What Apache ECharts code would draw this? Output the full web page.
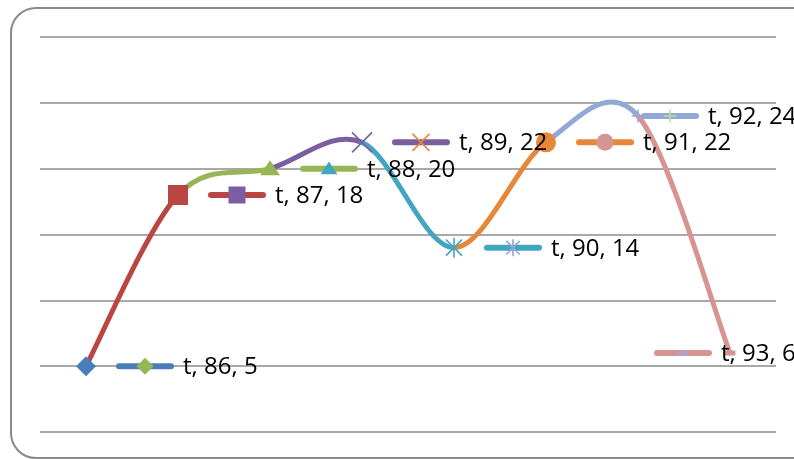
<!DOCTYPE html>
<html><head><meta charset="utf-8">
<script src="https://cdn.jsdelivr.net/npm/echarts@6/dist/echarts.min.js"></script>
<style>html,body{margin:0;padding:0;background:#fff}#c{width:794px;height:459px}</style>
</head><body><div id="c"></div>
<script>
// ---- data ----
const seriesName = 't';
const categories = ['86', '87', '88', '89', '90', '91', '92', '93'];
const values = [5, 18, 20, 22, 14, 22, 24, 6];
const yTicks = [0, 5, 10, 15, 20, 25, 30];

// ---- styles ----
const pointColors = ['#4A7EBB', '#BA4643', '#96B656', '#7B5E9F', '#43A6C0', '#E6873A', '#92A9D6', '#D69492'];
const keyMarkerColors = ['#96B656', '#7B5E9F', '#43A6C0', '#E6873A', '#92A9D6', '#D69492', '#C3D69B', '#B3A2C7'];
const markerKinds = ['diamond', 'rect', 'triangle', 'x', 'star', 'circle', 'plus', 'dash'];
const labelShift = [0, 0, 0, 0, 0, 0, -27, -106];
const FONT = '24px "Open Sans", "Liberation Sans", sans-serif';

function marker(kind, cx, cy, color, s) {
  const h = s / 2;
  const ln = (x1, y1, x2, y2) => ({ type: 'line', shape: { x1, y1, x2, y2 }, style: { stroke: color, lineWidth: 1.6 } });
  switch (kind) {
    case 'diamond':
      return [{ type: 'polygon', shape: { points: [[cx, cy - h], [cx + h, cy], [cx, cy + h], [cx - h, cy]] }, style: { fill: color } }];
    case 'rect':
      return [{ type: 'rect', shape: { x: cx - h, y: cy - h, width: s, height: s }, style: { fill: color } }];
    case 'triangle':
      return [{ type: 'polygon', shape: { points: [[cx, cy - h * 0.85], [cx + h, cy + h * 0.65], [cx - h, cy + h * 0.65]] }, style: { fill: color } }];
    case 'x':
      return [ln(cx - h, cy - h, cx + h, cy + h), ln(cx - h, cy + h, cx + h, cy - h)];
    case 'star':
      return [ln(cx - h * 0.8, cy - h * 0.8, cx + h * 0.8, cy + h * 0.8), ln(cx - h * 0.8, cy + h * 0.8, cx + h * 0.8, cy - h * 0.8), ln(cx, cy - h, cx, cy + h)];
    case 'circle':
      return [{ type: 'circle', shape: { cx, cy, r: h }, style: { fill: color } }];
    case 'plus':
      return [ln(cx - h * 0.7, cy, cx + h * 0.7, cy), ln(cx, cy - h * 0.7, cx, cy + h * 0.7)];
    case 'dash':
      return [{ type: 'rect', shape: { x: cx - h * 0.6, y: cy - 2.5, width: s * 0.6, height: 5 }, style: { fill: color } }];
  }
  return [];
}

function renderSegment(params, api) {
  const i = params.dataIndex;
  const n = values.length;
  const P = k => { const kk = Math.max(0, Math.min(n - 1, k)); return api.coord([kk, values[kk]]); };
  const p0 = P(i - 1), p1 = P(i), p2 = P(i + 1), p3 = P(i + 2);
  const c1 = [p1[0] + (p2[0] - p0[0]) / 6, p1[1] + (p2[1] - p0[1]) / 6];
  const c2 = [p2[0] - (p3[0] - p1[0]) / 6, p2[1] - (p3[1] - p1[1]) / 6];
  return {
    type: 'bezierCurve',
    shape: { x1: p1[0], y1: p1[1], cpx1: c1[0], cpy1: c1[1], cpx2: c2[0], cpy2: c2[1], x2: p2[0], y2: p2[1] },
    style: { stroke: pointColors[i + 1], lineWidth: 5, fill: null, lineCap: 'round' }
  };
}

function renderMarker(params, api) {
  const i = params.dataIndex;
  const p = api.coord([i, values[i]]);
  const s = markerKinds[i] === 'plus' ? 18 : (markerKinds[i] === 'dash' ? 18 : 20);
  return { type: 'group', children: marker(markerKinds[i], p[0], p[1], pointColors[i], s) };
}

function renderLabel(params, api) {
  const i = params.dataIndex;
  const p = api.coord([i, values[i]]);
  const x = p[0] + labelShift[i], y = p[1];
  const s = markerKinds[i] === 'plus' ? 18 : 17;
  const children = [
    { type: 'line', shape: { x1: x + 33, y1: y, x2: x + 85, y2: y }, style: { stroke: pointColors[i], lineWidth: 6, lineCap: 'round' } }
  ].concat(marker(markerKinds[i], x + 59, y, keyMarkerColors[i], s)).concat([
    { type: 'text', x: x + 97, y: y + 1, style: { text: seriesName + ', ' + categories[i] + ', ' + values[i], fill: '#000', font: FONT, align: 'left', verticalAlign: 'middle' } }
  ]);
  return { type: 'group', children };
}

const chart = echarts.init(document.getElementById('c'), null, { renderer: 'canvas' });
chart.setOption({
  animation: false,
  backgroundColor: '#fff',
  graphic: [{
    type: 'rect', z: 0,
    shape: { x: 11, y: 8, width: 830, height: 450, r: 25 },
    style: { fill: null, stroke: '#8a8a8a', lineWidth: 2 }
  }],
  grid: { left: 40, right: 18, top: 37, bottom: 27 },
  xAxis: {
    type: 'category', data: categories, boundaryGap: true,
    axisLine: { show: false }, axisTick: { show: false }, axisLabel: { show: false }, splitLine: { show: false }
  },
  yAxis: {
    type: 'value', min: yTicks[0], max: yTicks[yTicks.length - 1], interval: yTicks[1] - yTicks[0],
    axisLine: { show: false }, axisTick: { show: false }, axisLabel: { show: false },
    splitLine: { show: true, lineStyle: { color: '#8c8c8c', width: 1.5 } }
  },
  series: [
    { type: 'custom', z: 2, renderItem: renderSegment, data: values.slice(0, values.length - 1).map((v, i) => [i, v]) },
    { type: 'custom', z: 3, renderItem: renderMarker, data: values.map((v, i) => [i, v]) },
    { type: 'custom', z: 4, renderItem: renderLabel, data: values.map((v, i) => [i, v]) }
  ]
});
</script></body></html>
